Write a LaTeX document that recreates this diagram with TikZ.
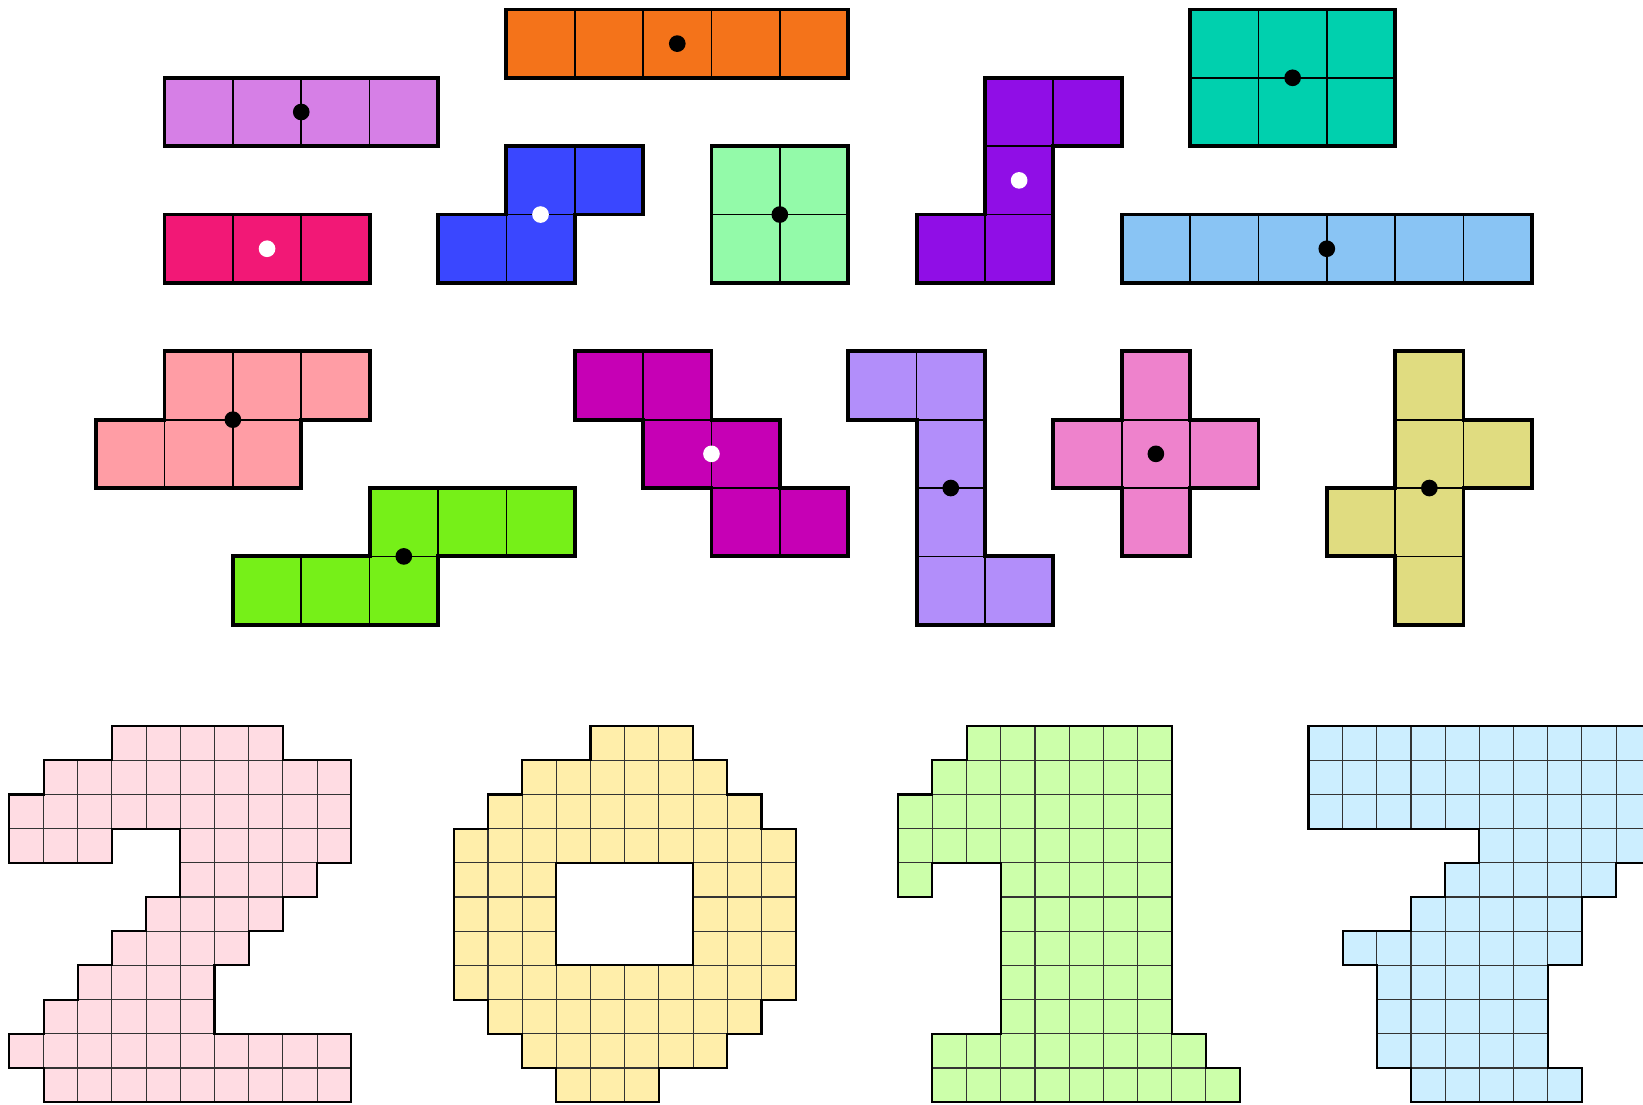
\documentclass[tikz,border=0pt]{standalone}
\definecolor{cOrange}{HTML}{F4731A}
\definecolor{cOrchid}{HTML}{D67FE6}
\definecolor{cRose}{HTML}{F21876}
\definecolor{cBlue}{HTML}{3A47FF}
\definecolor{cMint}{HTML}{93FAA9}
\definecolor{cViolet}{HTML}{900EE6}
\definecolor{cTeal}{HTML}{00D0AE}
\definecolor{cSky}{HTML}{89C4F4}
\definecolor{cSalmon}{HTML}{FF9DA5}
\definecolor{cLime}{HTML}{76F018}
\definecolor{cMagenta}{HTML}{C600B5}
\definecolor{cLavender}{HTML}{B28EFA}
\definecolor{cPink}{HTML}{EE82CC}
\definecolor{cKhaki}{HTML}{E0DC80}
\definecolor{dTwo}{HTML}{FFDCE3}
\definecolor{dZero}{HTML}{FFEEAA}
\definecolor{dOne}{HTML}{CCFFAA}
\definecolor{dSeven}{HTML}{CCEEFF}
\tikzset{
  topcell/.style={draw=black, line width=0.7pt},
  topout/.style={draw=black, line width=1.6pt, line join=miter},
  digcell/.style={draw=black!80, line width=0.45pt},
  digout/.style={draw=black, line width=0.9pt, line join=miter},
  dotb/.style={fill=black},
  dotw/.style={fill=white},
}
\begin{document}
\begin{tikzpicture}
\useasboundingbox (0,0) rectangle (24.031,-16.148);
\clip (0,0) rectangle (24.031,-16.148);
\def\rr{0.122}
\begin{scope}[shift={(0.406,-0.138)}, yscale=-1]
  % orange I5
  \foreach \c in {7,...,11} \draw[topcell, fill=cOrange] (\c,0) rectangle ++(1,1);
  \draw[topout] (7,0) rectangle (12,1);
  \fill[dotb] (9.5,0.5) circle (\rr);
  % orchid I4
  \foreach \c in {2,...,5} \draw[topcell, fill=cOrchid] (\c,1) rectangle ++(1,1);
  \draw[topout] (2,1) rectangle (6,2);
  \fill[dotb] (4,1.5) circle (\rr);
  % rose I3
  \foreach \c in {2,...,4} \draw[topcell, fill=cRose] (\c,3) rectangle ++(1,1);
  \draw[topout] (2,3) rectangle (5,4);
  \fill[dotw] (3.5,3.5) circle (\rr);
  % blue S
  \foreach \c/\r in {7/2,8/2,6/3,7/3} \draw[topcell, fill=cBlue] (\c,\r) rectangle ++(1,1);
  \draw[topout] (7,2) -- (9,2) -- (9,3) -- (8,3) -- (8,4) -- (6,4) -- (6,3) -- (7,3) -- cycle;
  \fill[dotw] (7.5,3) circle (\rr);
  % mint O
  \foreach \c/\r in {10/2,11/2,10/3,11/3} \draw[topcell, fill=cMint] (\c,\r) rectangle ++(1,1);
  \draw[topout] (10,2) rectangle (12,4);
  \fill[dotb] (11,3) circle (\rr);
  % violet
  \foreach \c/\r in {14/1,15/1,14/2,13/3,14/3} \draw[topcell, fill=cViolet] (\c,\r) rectangle ++(1,1);
  \draw[topout] (14,1) -- (16,1) -- (16,2) -- (15,2) -- (15,4) -- (13,4) -- (13,3) -- (14,3) -- cycle;
  \fill[dotw] (14.5,2.5) circle (\rr);
  % teal 3x2
  \foreach \c in {17,18,19} \foreach \r in {0,1} \draw[topcell, fill=cTeal] (\c,\r) rectangle ++(1,1);
  \draw[topout] (17,0) rectangle (20,2);
  \fill[dotb] (18.5,1) circle (\rr);
  % sky I6
  \foreach \c in {16,...,21} \draw[topcell, fill=cSky] (\c,3) rectangle ++(1,1);
  \draw[topout] (16,3) rectangle (22,4);
  \fill[dotb] (19,3.5) circle (\rr);
  % salmon
  \foreach \c/\r in {2/5,3/5,4/5,1/6,2/6,3/6} \draw[topcell, fill=cSalmon] (\c,\r) rectangle ++(1,1);
  \draw[topout] (2,5) -- (5,5) -- (5,6) -- (4,6) -- (4,7) -- (1,7) -- (1,6) -- (2,6) -- cycle;
  \fill[dotb] (3,6) circle (\rr);
  % lime
  \foreach \c/\r in {5/7,6/7,7/7,3/8,4/8,5/8} \draw[topcell, fill=cLime] (\c,\r) rectangle ++(1,1);
  \draw[topout] (5,7) -- (8,7) -- (8,8) -- (6,8) -- (6,9) -- (3,9) -- (3,8) -- (5,8) -- cycle;
  \fill[dotb] (5.5,8) circle (\rr);
  % magenta
  \foreach \c/\r in {8/5,9/5,9/6,10/6,10/7,11/7} \draw[topcell, fill=cMagenta] (\c,\r) rectangle ++(1,1);
  \draw[topout] (8,5) -- (10,5) -- (10,6) -- (11,6) -- (11,7) -- (12,7) -- (12,8) -- (10,8) -- (10,7) -- (9,7) -- (9,6) -- (8,6) -- cycle;
  \fill[dotw] (10,6.5) circle (\rr);
  % lavender
  \foreach \c/\r in {12/5,13/5,13/6,13/7,13/8,14/8} \draw[topcell, fill=cLavender] (\c,\r) rectangle ++(1,1);
  \draw[topout] (12,5) -- (14,5) -- (14,8) -- (15,8) -- (15,9) -- (13,9) -- (13,6) -- (12,6) -- cycle;
  \fill[dotb] (13.5,7) circle (\rr);
  % pink plus
  \foreach \c/\r in {16/5,15/6,16/6,17/6,16/7} \draw[topcell, fill=cPink] (\c,\r) rectangle ++(1,1);
  \draw[topout] (16,5) -- (17,5) -- (17,6) -- (18,6) -- (18,7) -- (17,7) -- (17,8) -- (16,8) -- (16,7) -- (15,7) -- (15,6) -- (16,6) -- cycle;
  \fill[dotb] (16.5,6.5) circle (\rr);
  % khaki
  \foreach \c/\r in {20/5,20/6,21/6,19/7,20/7,20/8} \draw[topcell, fill=cKhaki] (\c,\r) rectangle ++(1,1);
  \draw[topout] (20,5) -- (21,5) -- (21,6) -- (22,6) -- (22,7) -- (21,7) -- (21,9) -- (20,9) -- (20,8) -- (19,8) -- (19,7) -- (20,7) -- cycle;
  \fill[dotb] (20.5,7) circle (\rr);
\end{scope}
\begin{scope}[shift={(0.1375,-10.62)}, scale=0.5, yscale=-1]
  % digit 2
  \foreach \r/\a/\b in {0/3/7,1/1/9,2/0/9,3/0/2,3/5/9,4/5/8,5/4/7,6/3/6,7/2/5,8/1/5,9/0/9,10/1/9}
    \foreach \c in {\a,...,\b} \draw[digcell, fill=dTwo] (\c,\r) rectangle ++(1,1);
  \draw[digout] (3,0) -- (8,0) -- (8,1) -- (10,1) -- (10,4) -- (9,4) -- (9,5) -- (8,5) -- (8,6) -- (7,6) -- (7,7) -- (6,7) -- (6,9) -- (10,9) -- (10,11) -- (1,11) -- (1,10) -- (0,10) -- (0,9) -- (1,9) -- (1,8) -- (2,8) -- (2,7) -- (3,7) -- (3,6) -- (4,6) -- (4,5) -- (5,5) -- (5,3) -- (3,3) -- (3,4) -- (0,4) -- (0,2) -- (1,2) -- (1,1) -- (3,1) -- cycle;
  % digit 0
  \foreach \r/\a/\b in {0/17/19,1/15/20,2/14/21,3/13/22,4/13/15,4/20/22,5/13/15,5/20/22,6/13/15,6/20/22,7/13/22,8/14/21,9/15/20,10/16/18}
    \foreach \c in {\a,...,\b} \draw[digcell, fill=dZero] (\c,\r) rectangle ++(1,1);
  \draw[digout] (17,0) -- (20,0) -- (20,1) -- (21,1) -- (21,2) -- (22,2) -- (22,3) -- (23,3) -- (23,8) -- (22,8) -- (22,9) -- (21,9) -- (21,10) -- (19,10) -- (19,11) -- (16,11) -- (16,10) -- (15,10) -- (15,9) -- (14,9) -- (14,8) -- (13,8) -- (13,3) -- (14,3) -- (14,2) -- (15,2) -- (15,1) -- (17,1) -- cycle
    (16,4) -- (20,4) -- (20,7) -- (16,7) -- cycle;
  % digit 1
  \foreach \r/\a/\b in {0/28/33,1/27/33,2/26/33,3/26/33,4/26/26,4/29/33,5/29/33,6/29/33,7/29/33,8/29/33,9/27/34,10/27/35}
    \foreach \c in {\a,...,\b} \draw[digcell, fill=dOne] (\c,\r) rectangle ++(1,1);
  \draw[digout] (28,0) -- (34,0) -- (34,9) -- (35,9) -- (35,10) -- (36,10) -- (36,11) -- (27,11) -- (27,9) -- (29,9) -- (29,4) -- (27,4) -- (27,5) -- (26,5) -- (26,2) -- (27,2) -- (27,1) -- (28,1) -- cycle;
  % digit 7
  \foreach \r/\a/\b in {0/38/47,1/38/47,2/38/47,3/43/47,4/42/46,5/41/45,6/39/45,7/40/44,8/40/44,9/40/44,10/41/45}
    \foreach \c in {\a,...,\b} \draw[digcell, fill=dSeven] (\c,\r) rectangle ++(1,1);
  \draw[digout] (38,0) -- (48,0) -- (48,4) -- (47,4) -- (47,5) -- (46,5) -- (46,7) -- (45,7) -- (45,10) -- (46,10) -- (46,11) -- (41,11) -- (41,10) -- (40,10) -- (40,7) -- (39,7) -- (39,6) -- (41,6) -- (41,5) -- (42,5) -- (42,4) -- (43,4) -- (43,3) -- (38,3) -- cycle;
\end{scope}
\end{tikzpicture}
\end{document}
